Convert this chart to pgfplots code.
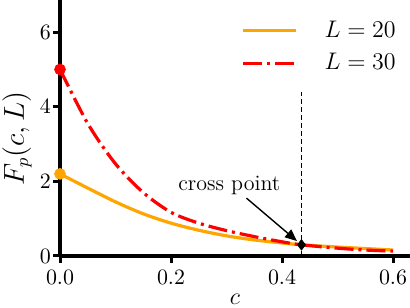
\documentclass[border=0pt]{standalone}
\usepackage{pgfplots}
\pgfplotsset{compat=1.18}
\usetikzlibrary{arrows.meta}
\definecolor{myorange}{RGB}{255,165,0}
\definecolor{myred}{RGB}{255,0,0}
\begin{document}
\begin{tikzpicture}
\begin{axis}[
  at={(0,0)}, anchor=origin,
  scale only axis,
  width=175pt, height=128pt,
  xmin=0, xmax=0.6306, ymin=0, ymax=6.86,
  axis lines=left,
  axis line style={-, line width=1.6pt},
  clip=false,
  xtick={0,0.2,0.4,0.6},
  ytick={0,2,4,6},
  xticklabel style={/pgf/number format/.cd, fixed, fixed zerofill, precision=1},
  yticklabel style={xshift=2.5pt},
  tick align=outside,
  major tick length=3.5pt,
  tick style={line width=1.5pt, black},
  tick label style={font=\fontsize{10.5}{12}\selectfont},
  xlabel={$c$},
  xlabel style={at={(axis description cs:0.5,0)}, anchor=base, yshift=-24.5pt, font=\fontsize{12}{14}\selectfont},
  legend style={draw=none, fill=none, at={(axis description cs:0.50,0.95)}, anchor=north west,
    font=\fontsize{11.5}{14}\selectfont, row sep=2.5pt, nodes={inner xsep=6pt}},
  legend cell align=left,
  legend image code/.code={\draw[#1] (0pt,0pt) -- (26.5pt,0pt); \path (34pt,0pt);},
]
\addplot[myorange, line width=1.6pt, smooth] coordinates {
(0,2.2)(0.05,1.82)(0.1,1.45)(0.15,1.13)(0.2,0.88)(0.25,0.69)(0.3,0.54)(0.35,0.43)(0.4,0.35)(0.435,0.30)(0.5,0.24)(0.55,0.20)(0.6,0.16)};
\addlegendentry{$L=20$}
\addplot[myred, line width=1.6pt, smooth, dash pattern=on 9.5pt off 2.5pt on 1.5pt off 2.5pt] coordinates {
(0,5.0)(0.05,3.55)(0.1,2.47)(0.15,1.70)(0.2,1.17)(0.25,0.88)(0.3,0.68)(0.35,0.52)(0.4,0.38)(0.435,0.30)(0.5,0.21)(0.55,0.16)(0.6,0.13)};
\addlegendentry{$L=30$}
\addplot[black, line width=0.6pt, dash pattern=on 2.5pt off 1.5pt, forget plot] coordinates {(0.435,0) (0.435,4.4)};
\addplot[only marks, mark=*, mark size=2.7pt, myorange, forget plot] coordinates {(0,2.2)};
\addplot[only marks, mark=*, mark size=2.7pt, myred, forget plot] coordinates {(0,5.0)};
\addplot[only marks, mark=diamond*, mark size=2.6pt, black, forget plot] coordinates {(0.435,0.30)};
\draw[-{Triangle[length=6pt,width=5pt]}, line width=0.7pt] (axis cs:0.336,1.55) -- (axis cs:0.427,0.40);
\node[font=\fontsize{11}{13}\selectfont] at (axis cs:0.305,1.90) {cross point};
\end{axis}
\node[rotate=90, font=\fontsize{13.5}{15}\selectfont] at (-21.5pt,58.75pt) {$F_p(c, L)$};
\pgfresetboundingbox
\useasboundingbox (-30pt,-26pt) rectangle (175pt,128pt);
\end{tikzpicture}
\end{document}
